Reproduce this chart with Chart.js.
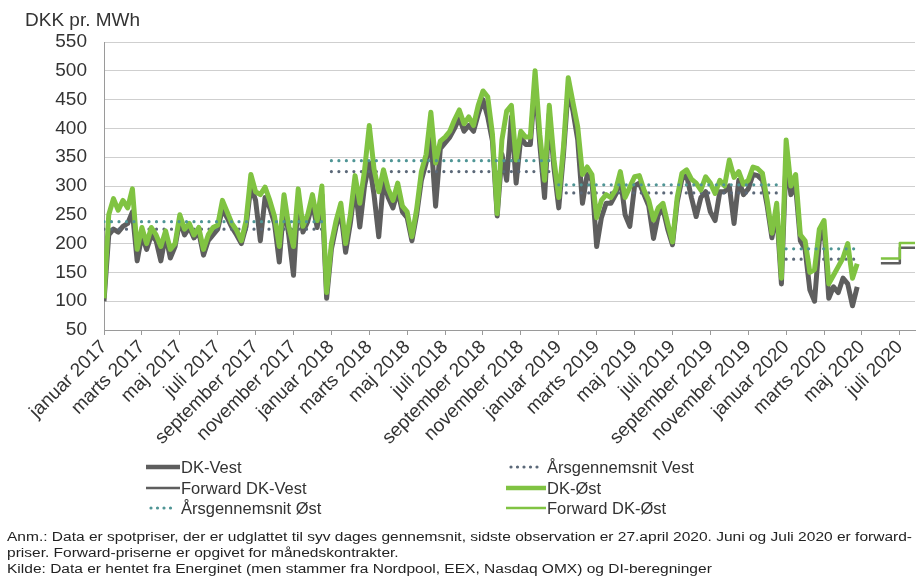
<!DOCTYPE html>
<html lang="da">
<head>
<meta charset="utf-8">
<script src="https://cdn.jsdelivr.net/npm/chart.js@4.4.1/dist/chart.umd.min.js"></script>
<style>
    html, body { margin: 0; padding: 0; background: #fff; }
    #wrap { position: relative; width: 918px; height: 583px; overflow: hidden;
            font-family: "Liberation Sans", Arial, sans-serif; color: #333; }
    #chart { position: absolute; left: 0; top: 0; }
    .title { position: absolute; left: 25px; top: 10px; font-size: 19px; line-height: 19px; }
    .leg { position: absolute; height: 20px; line-height: 20px; font-size: 16.5px;
           display: flex; align-items: center; white-space: nowrap; }
    .leg svg { display: block; margin-right: 1px; }
    .note { position: absolute; left: 7px; font-size: 12.5px; line-height: 14px;
            white-space: nowrap; transform-origin: left top; color: #222; }
</style>
</head>
<body>
<div id="wrap">
    <canvas id="chart" width="918" height="583"></canvas>
    <div class="title">DKK pr. MWh</div>
    <div id="legend"></div>
    <div class="note" id="n1" style="top:530px">Anm.: Data er spotpriser, der er udglattet til syv dages gennemsnit, sidste observation er 27.april 2020. Juni og Juli 2020 er forward-</div>
    <div class="note" id="n2" style="top:546px">priser. Forward-priserne er opgivet for månedskontrakter.</div>
    <div class="note" id="n3" style="top:562px">Kilde: Data er hentet fra Energinet (men stammer fra Nordpool, EEX, Nasdaq OMX) og DI-beregninger</div>
</div>
<script>
// maanedsnavne til x-aksen (aksen starter januar 2017)
const maaneder = ["januar", "februar", "marts", "april", "maj", "juni",
                  "juli", "august", "september", "oktober", "november", "december"];
const startAar = 2017;

// spotpris DK-Øst, ca. ugentlige punkter (4 pr. måned) fra jan 2017 til slut april 2020
const prisOst = [
    // 2017
    105, 250, 278, 258,  275, 262, 295, 190,  228, 200, 228, 215,  195, 222, 190, 200,
    250, 225, 235, 215,  228, 190, 215, 228,  232, 275, 255, 235,  223, 205, 240, 320,
    290, 285, 298, 275,  247, 195, 285, 230,  195, 295, 230, 250,  285, 240, 300, 115,
    // 2018
    200, 240, 270, 200,  250, 318, 270, 327,  405, 330, 290, 328,  295, 275, 305, 265,
    255, 212, 260, 325,  355, 428, 340, 378,  385, 395, 415, 432,  408, 420, 405, 440,
    465, 455, 390, 252,  380, 430, 440, 345,  395, 385, 385, 500,  390, 310, 440, 345,
    // 2019
    280, 368, 488, 445,  403, 320, 333, 320,  245, 275, 285, 280,  293, 325, 280, 298,
    316, 318, 293, 275,  241, 262, 270, 235,  203, 280, 322, 328,  312, 305, 293, 316,
    305, 287, 310, 300,  345, 315, 325, 303,  310, 333, 330, 322,  275, 218, 270, 140,
    // 2020
    380, 300, 320, 215,  205, 150, 155, 225,  240, 130, 145, 160,  175, 200, 140, 165
];

// spotpris DK-Vest, samme tidspunkter
const prisVest = [
    // 2017
    100, 215, 225, 220,  230, 235, 255, 170,  215, 190, 215, 205,  170, 215, 175, 195,
    240, 215, 228, 210,  220, 180, 205, 215,  225, 260, 245, 228,  215, 200, 230, 300,
    275, 205, 280, 262,  235, 168, 270, 215,  145, 280, 220, 238,  270, 228, 285, 105,
    // 2018
    190, 230, 255, 185,  235, 300, 229, 300,  340, 285, 212, 310,  280, 262, 292, 255,
    245, 205, 250, 310,  340, 385, 265, 365,  375, 385, 400, 418,  395, 405, 395, 425,
    450, 420, 378, 248,  355, 310, 420, 305,  385, 372, 372, 480,  372, 280, 425, 330,
    // 2019
    262, 355, 470, 430,  380, 270, 320, 310,  195, 245, 270, 270,  285, 315, 250, 230,
    300, 305, 285, 265,  209, 250, 260, 225,  198, 272, 312, 318,  280, 247, 280, 290,
    255, 240, 290, 290,  300, 235, 310, 285,  295, 320, 318, 310,  265, 210, 255, 130,
    // 2020
    350, 285, 300, 205,  190, 120, 100, 205,  225, 105, 125, 115,  140, 130, 92, 125
];

// årsgennemsnit 2017-2020
const aarsgnsVest = [225, 325, 288, 173];
const aarsgnsOst = [238, 344, 302, 191];

// forward-priser for juni og juli 2020 (måned nr. regnet fra jan 2017)
const forwardMaaned = [41, 42];
const forwardVest = [166, 193];
const forwardOst = [174, 201];

const GRAA = "#5e5e5e";
const GROEN = "#80c342";
const PRIK_VEST = "#5b6878";
const PRIK_OST = "#4f9595";
const FONT = "'Liberation Sans', Arial, sans-serif";

function ugePunkter(vaerdier) {
    return vaerdier.map((v, i) => ({ x: i / 4, y: v }));
}

function aarsLinje(vaerdier) {
    const sidste = (prisOst.length - 1) / 4;
    const pts = [];
    vaerdier.forEach((v, i) => {
        const start = i * 12;
        const slut = Math.min(start + 11.85, sidste);
        pts.push({ x: start, y: v }, { x: slut, y: v }, { x: slut + 0.05, y: null });
    });
    return pts;
}

function forwardLinje(vaerdier) {
    const pts = forwardMaaned.map((m, i) => ({ x: m, y: vaerdier[i] }));
    pts.push({ x: forwardMaaned[forwardMaaned.length - 1] + 1, y: vaerdier[vaerdier.length - 1] });
    return pts;
}

function maanedLabel(v) {
    const m = Math.round(v);
    return maaneder[m % 12] + " " + (startAar + Math.floor(m / 12));
}

const ctx = document.getElementById("chart");
new Chart(ctx, {
    type: "line",
    data: {
        datasets: [
            { label: "DK-Vest", data: ugePunkter(prisVest), borderColor: GRAA, borderWidth: 5, order: 6 },
            { label: "Årsgennemsnit Vest", data: aarsLinje(aarsgnsVest), borderColor: PRIK_VEST, borderWidth: 3.2,
              borderDash: [0, 7.5], borderCapStyle: "round", spanGaps: false, order: 5 },
            { label: "Forward DK-Vest", data: forwardLinje(forwardVest), borderColor: GRAA, borderWidth: 2.5,
              stepped: "before", order: 4 },
            { label: "DK-Øst", data: ugePunkter(prisOst), borderColor: GROEN, borderWidth: 5, order: 3 },
            { label: "Årsgennemsnit Øst", data: aarsLinje(aarsgnsOst), borderColor: PRIK_OST, borderWidth: 3.2,
              borderDash: [0, 7.5], borderCapStyle: "round", spanGaps: false, order: 2 },
            { label: "Forward DK-Øst", data: forwardLinje(forwardOst), borderColor: GROEN, borderWidth: 2.5,
              stepped: "before", order: 1 }
        ]
    },
    options: {
        responsive: false,
        animation: false,
        parsing: false,
        layout: { padding: { left: 0, right: 3, top: 42, bottom: 0 } },
        elements: { point: { radius: 0 }, line: { tension: 0, borderJoinStyle: "round", fill: false } },
        plugins: { legend: { display: false }, tooltip: { enabled: false } },
        scales: {
            x: {
                type: "linear",
                min: 0,
                max: 42.8,
                grid: { drawOnChartArea: false, drawTicks: true, tickLength: 5, color: "#9a9a9a" },
                border: { color: "#9a9a9a" },
                ticks: {
                    stepSize: 2,
                    includeBounds: false,
                    autoSkip: false,
                    minRotation: 45,
                    maxRotation: 45,
                    padding: 1,
                    color: "#333",
                    font: { size: 19, family: FONT },
                    callback: v => maanedLabel(v)
                },
                afterFit: s => { s.height = 253; s.paddingLeft = 0; s.paddingRight = 0; }
            },
            y: {
                min: 50,
                max: 550,
                grid: { color: "#cfcfcf", drawTicks: false },
                border: { color: "#9a9a9a" },
                ticks: { stepSize: 50, padding: 17, color: "#333", font: { size: 19, family: FONT } },
                afterFit: s => { s.width = 104; s.paddingTop = 0; s.paddingBottom = 0; }
            }
        }
    }
});

// forklaring i to kolonner, som i originalen
const legendItems = [
    { text: "DK-Vest", color: GRAA, width: 4.5, dots: false, left: 146, row: 0 },
    { text: "Årsgennemsnit Vest", color: PRIK_VEST, width: 3.2, dots: true, left: 506, row: 0 },
    { text: "Forward DK-Vest", color: GRAA, width: 2.5, dots: false, left: 146, row: 1 },
    { text: "DK-Øst", color: GROEN, width: 4.5, dots: false, left: 506, row: 1 },
    { text: "Årsgennemsnit Øst", color: PRIK_OST, width: 3.2, dots: true, left: 146, row: 2 },
    { text: "Forward DK-Øst", color: GROEN, width: 2.5, dots: false, left: 506, row: 2 }
];
const rowTops = [457, 478, 498];

const legend = document.getElementById("legend");
legend.innerHTML = legendItems.map(it => {
    const w = it.left > 300 ? 40 : 34;
    const line = it.dots
        ? `<line x1="5" y1="5" x2="${w - 5}" y2="5" stroke="${it.color}" stroke-width="${it.width}" stroke-linecap="round" stroke-dasharray="0 6.5"/>`
        : `<line x1="0" y1="5" x2="${w}" y2="5" stroke="${it.color}" stroke-width="${it.width}"/>`;
    return `<div class="leg" style="left:${it.left}px;top:${rowTops[it.row]}px">
        <svg width="${w}" height="10">${line}</svg>${it.text}</div>`;
}).join("");

// fodnoten er smal i originalen: skaler den så første linje fylder bredden
const n1 = document.getElementById("n1");
const k = 905 / n1.getBoundingClientRect().width;
["n1", "n2", "n3"].forEach(id => {
    document.getElementById(id).style.transform = `scaleX(${k})`;
});
</script>
</body>
</html>
